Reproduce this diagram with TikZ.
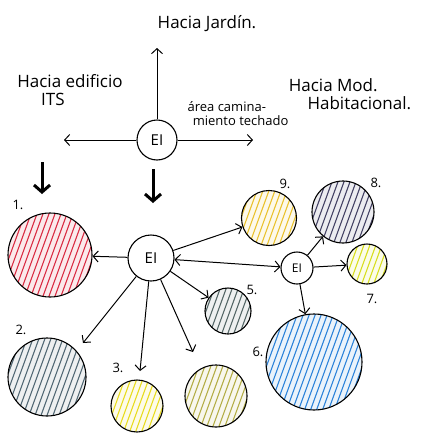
\documentclass[tikz,border=0pt]{standalone}
\usepackage{fontspec}
\setmainfont{Open Sans}
\usetikzlibrary{arrows.meta,calc}
\definecolor{hred}{HTML}{DA2F45}
\definecolor{hgray}{HTML}{546A76}
\definecolor{hyel}{HTML}{E8DC20}
\definecolor{holive}{HTML}{B4AE48}
\definecolor{hgray2}{HTML}{566868}
\definecolor{horange}{HTML}{EAC230}
\definecolor{hpurp}{HTML}{464466}
\definecolor{hlime}{HTML}{D8DE20}
\definecolor{hblue}{HTML}{2E84DA}
\tikzset{
  hatchc/.style={circle, draw=black, line width=1.1pt, inner sep=0pt, minimum size=#1},
  hatch/.style={fill=#1!10, path picture={
      \foreach \x in {-70,-64,...,70}{
        \draw[#1,line width=1.1pt] ($(path picture bounding box.center)+(\x pt,0pt)+(250:70pt)$) -- ++(70:140pt);
      }}},
  ecirc/.style={circle, draw=black, line width=1.1pt, inner sep=0pt, minimum size=#1, font=\fontsize{15}{15}\selectfont},
  arr/.style={-{Straight Barb[length=5pt,width=11pt]}, line width=1pt},
  barr/.style={-{Straight Barb[length=7pt,width=16pt,line width=3pt]}, line width=3pt},
  hand/.style={font=\fontsize{16}{17}\selectfont, inner sep=0pt, align=left},
  small/.style={font=\fontsize{13}{14}\selectfont, inner sep=0pt, align=left},
  num/.style={font=\fontsize{13}{13}\selectfont, inner sep=0pt}
}
\begin{document}
\begin{tikzpicture}[x=1pt,y=-1pt]
\useasboundingbox (0,0) rectangle (422,437);
% top texts
\node[hand, font=\fontsize{17}{17}\selectfont] (tj) at (207,24) {Hacia Jardín.};
\node[hand, font=\fontsize{17}{18}\selectfont] (te) at (70,90) {Hacia edificio\\\hspace*{1.4em}ITS};
\node[hand, font=\fontsize{17}{18}\selectfont] (tm) at (350,94) {Hacia Mod.\\\hspace*{1.1em}Habitacional.};
\node[small] (ta) at (238,114) {área camina-\\\hspace*{0.4em}miento techado};
% top E1
\node[ecirc=40pt] (e0) at (157,140) {EI};
\coordinate (up) at (157,48);
\coordinate (lf) at (64,140);
\coordinate (rt) at (253,140);
\draw[arr] (e0) -- (up);
\draw[arr] (e0) -- (lf);
\draw[arr] (e0) -- (rt);
% bold arrows
\coordinate (b1s) at (42,162);
\coordinate (b1e) at (42,194);
\coordinate (b2s) at (153,169);
\coordinate (b2e) at (153,203);
\draw[barr] (b1s) -- (b1e);
\draw[barr] (b2s) -- (b2e);
% middle E1
\node[ecirc=46pt] (e1) at (151,258) {EI};
% circles
\node[hatchc=84pt, hatch=hred] (c1) at (50,255) {};
\node[num] (l1) at (18,205) {1.};
\node[hatchc=78pt, hatch=hgray] (c2) at (47,377) {};
\node[num] (l2) at (21,330) {2.};
\node[hatchc=52pt, hatch=hyel] (c3) at (137,406) {};
\node[num] (l3) at (118,368) {3.};
\node[hatchc=62pt, hatch=holive] (c4) at (216,396) {};
\node[hatchc=46pt, hatch=hgray2] (c5) at (228,311) {};
\node[num] (l5) at (252,290) {5.};
\node[hatchc=55pt, hatch=horange] (c9) at (269,218) {};
\node[num] (l9) at (285,184) {9.};
\node[hatchc=62pt, hatch=hpurp] (c8) at (343,212) {};
\node[num] (l8) at (376,183) {8.};
\node[hatchc=40pt, hatch=hlime] (c7) at (367,264) {};
\node[num] (l7) at (372,299) {7.};
\node[hatchc=96pt, hatch=hblue] (c6) at (314,362) {};
\node[num] (l6) at (258,352) {6.};
% small E1
\node[ecirc=32pt, font=\fontsize{12}{12}\selectfont] (e2) at (297,268) {EI};
% arrow end points
\coordinate (a2) at (83,343);
\coordinate (a3) at (140,371);
\coordinate (a4) at (193,352);
% arrows from middle E1
\draw[arr] (e1) -- (c1);
\draw[arr] (e1) -- (a2);
\draw[arr] (e1) -- (a3);
\draw[arr] (e1) -- (a4);
\draw[arr] (e1) -- (c5);
\draw[arr] (e1) -- (c9);
\draw[{Straight Barb[length=5pt,width=11pt]}-{Straight Barb[length=5pt,width=11pt]}, line width=1pt] (e1) -- (e2);
% small E1 arrows
\draw[arr] (e2) -- (c8);
\draw[arr] (e2) -- (c7);
\draw[arr] (e2) -- (c6);
\end{tikzpicture}
\end{document}
